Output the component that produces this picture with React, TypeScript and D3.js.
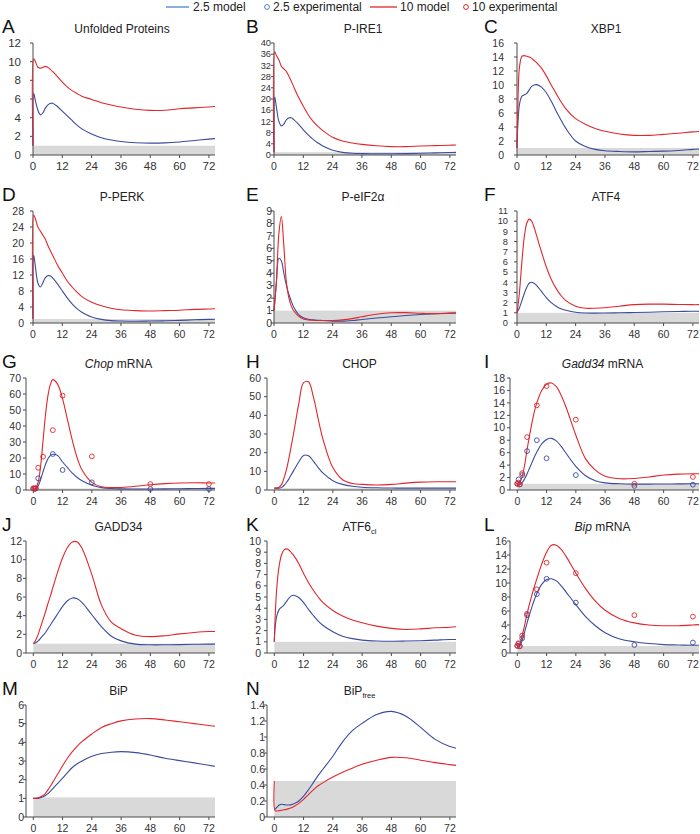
import React from "react";
import * as d3 from "d3";

// model time points (hours)
const T = [0, 0.3, 1, 2, 3, 4, 5, 6, 7, 8, 10, 12, 14, 16, 18, 20, 24, 28, 32, 36, 42, 48, 54, 60, 66, 72, 74.5];
// experimental time points (hours)
const EXP_T = [0, 0.5, 1, 2, 4, 8, 12, 24, 48, 72];
const X_TICKS = [0, 12, 24, 36, 48, 60, 72];

// A Unfolded Proteins
const unfolded25 = [1, 6.6, 5.8, 4.8, 4.3, 4.5, 5.0, 5.35, 5.52, 5.55, 5.2, 4.7, 4.2, 3.7, 3.2, 2.8, 2.25, 1.85, 1.6, 1.45, 1.32, 1.27, 1.3, 1.4, 1.55, 1.7, 1.75];
const unfolded10 = [1, 10.3, 10.0, 9.4, 9.3, 9.4, 9.5, 9.4, 9.2, 8.95, 8.4, 7.8, 7.3, 6.9, 6.6, 6.3, 5.95, 5.6, 5.35, 5.15, 4.9, 4.78, 4.8, 4.95, 5.05, 5.15, 5.2];
// B P-IRE1
const pire25 = [1, 20.8, 17, 12, 10.4, 11, 12.5, 13.2, 13.3, 12.7, 11.0, 9.0, 7.2, 5.6, 4.3, 3.2, 1.7, 0.95, 0.6, 0.5, 0.45, 0.45, 0.5, 0.6, 0.75, 0.9, 0.95];
const pire10 = [1, 36.9, 35.5, 34, 31.7, 30.8, 29.9, 28.3, 26.5, 24.5, 20.7, 17.4, 14.4, 12, 10.2, 8.7, 6.3, 5.0, 4.3, 3.8, 3.3, 3.0, 3.0, 3.2, 3.35, 3.5, 3.55];
// C XBP1
const xbp25 = [1, 4, 7.2, 8.4, 8.6, 8.8, 9.3, 9.8, 10.0, 10.05, 9.7, 8.9, 7.7, 6.3, 5.0, 3.8, 2.0, 1.2, 0.8, 0.6, 0.5, 0.45, 0.5, 0.55, 0.65, 0.8, 0.85];
const xbp10 = [1, 6, 12.5, 14.1, 14.2, 14.1, 14.0, 13.8, 13.5, 13.2, 12.4, 11.3, 10.0, 8.8, 7.6, 6.6, 5.2, 4.4, 3.8, 3.4, 3.0, 2.8, 2.8, 2.95, 3.1, 3.3, 3.35];
// D P-PERK
const pperk25 = [1, 17, 14, 10, 9, 10, 11.3, 11.8, 11.8, 11.3, 9.8, 8, 6.3, 4.8, 3.6, 2.7, 1.5, 0.9, 0.6, 0.5, 0.45, 0.5, 0.55, 0.65, 0.8, 0.9, 0.95];
const pperk10 = [1, 27, 26, 24, 23, 22, 21, 19.5, 18.2, 17, 14.5, 12.5, 10.5, 9, 7.7, 6.6, 5.2, 4.3, 3.7, 3.3, 3.1, 3.0, 3.1, 3.2, 3.4, 3.5, 3.55];
// E P-eIF2a
const peif25 = [1, 1.7, 3.3, 5.2, 5.0, 4.0, 3.1, 2.35, 1.8, 1.3, 0.7, 0.42, 0.3, 0.25, 0.22, 0.2, 0.15, 0.15, 0.2, 0.28, 0.4, 0.5, 0.6, 0.68, 0.75, 0.8, 0.82];
const peif10 = [1, 1.6, 3.4, 7.2, 8.55, 6.3, 3.4, 2.1, 1.4, 1.0, 0.55, 0.32, 0.25, 0.22, 0.2, 0.2, 0.2, 0.25, 0.35, 0.5, 0.7, 0.82, 0.83, 0.78, 0.75, 0.77, 0.78];
// F ATF4
const atf425 = [1, 1.15, 1.5, 2.2, 2.9, 3.5, 3.9, 4.0, 3.9, 3.7, 3.1, 2.5, 2.0, 1.65, 1.4, 1.25, 1.05, 0.98, 0.97, 0.98, 1.0, 1.03, 1.06, 1.1, 1.13, 1.15, 1.15];
const atf410 = [1, 1.5, 3, 6, 8.5, 9.8, 10.2, 10.0, 9.4, 8.6, 7.0, 5.5, 4.3, 3.4, 2.7, 2.2, 1.65, 1.45, 1.45, 1.5, 1.65, 1.8, 1.85, 1.85, 1.82, 1.8, 1.8];
// G Chop mRNA
const chopm25 = [0.6, 0.6, 0.8, 2.5, 6.5, 11.5, 16, 19.5, 21.5, 22.3, 21.5, 17.5, 14, 10.5, 7.8, 5.8, 3, 1.5, 0.9, 0.7, 0.6, 0.6, 0.7, 0.8, 0.9, 1.0, 1.0];
const chopm10 = [0.6, 0.6, 1, 5, 15, 31, 47, 59, 66, 69, 66, 57, 44, 31, 20, 12.5, 4.8, 2.0, 1.5, 1.6, 2.3, 3.3, 4.0, 4.4, 4.5, 4.4, 4.4];
const chopmExp25 = [1, 0.7, 0.9, 7.3, null, 22.5, 12.5, 4.8, 0.6, 0.6];
const chopmExp10 = [1, 0.8, 1.2, 13.9, 20.8, 37.4, 59, 21, 3.7, 3.7];
// H CHOP
const chop25 = [1, 1, 1, 1, 1.4, 2.5, 4, 6, 8.3, 10.5, 15, 18.5, 18.3, 15.5, 12, 9, 5, 3, 2, 1.5, 1.2, 1.05, 1.0, 1.0, 1.0, 1.0, 1.0];
const chop10 = [1, 1, 1, 1.5, 3, 6.5, 11, 17, 24, 31, 46, 57.5, 58, 50, 38, 27, 12, 5.5, 3.5, 3.0, 2.7, 3.0, 3.7, 4.2, 4.4, 4.4, 4.4];
// I Gadd34 mRNA
const gaddm25 = [1, 0.95, 0.9, 1.2, 1.8, 2.6, 3.5, 4.4, 5.3, 6.1, 7.4, 8.1, 8.3, 7.9, 7.0, 5.9, 3.8, 2.3, 1.5, 1.15, 1.0, 0.95, 0.95, 0.97, 0.98, 1.0, 1.0];
const gaddm10 = [1, 1.1, 1.2, 2.2, 4, 6.5, 8.7, 10.8, 12.6, 14, 16.0, 17.0, 17.2, 16.6, 15.2, 13.3, 8.8, 5.0, 3.2, 2.2, 1.8, 1.85, 2.1, 2.4, 2.55, 2.6, 2.6];
const gaddmExp25 = [1.0, 1.7, 0.9, 2.4, 6.25, 8.0, 5.1, 2.4, 0.65, 0.85];
const gaddmExp10 = [1.0, 1.2, 0.9, 2.7, 8.5, 13.6, 16.7, 11.3, 1.0, 2.1];
// J GADD34
const gadd25 = [1, 1.03, 1.1, 1.3, 1.6, 1.9, 2.2, 2.6, 3.0, 3.4, 4.2, 5.0, 5.6, 5.9, 5.8, 5.4, 4.1, 2.8, 1.8, 1.3, 0.95, 0.88, 0.88, 0.9, 0.93, 0.95, 0.95];
const gadd10 = [1, 1.1, 1.4, 2.0, 2.8, 3.6, 4.4, 5.3, 6.1, 7.0, 8.7, 10.2, 11.3, 11.9, 11.9, 11.2, 8.4, 5.1, 3.3, 2.6, 1.9, 1.75, 1.85, 2.05, 2.2, 2.3, 2.3];
// K ATF6cl
const atf625 = [1, 2.2, 3.3, 3.9, 4.1, 4.3, 4.6, 4.9, 5.1, 5.15, 4.95, 4.5, 3.9, 3.35, 2.85, 2.45, 1.9, 1.5, 1.28, 1.15, 1.07, 1.05, 1.07, 1.1, 1.15, 1.2, 1.2];
const atf610 = [1, 3, 5.8, 7.8, 8.8, 9.2, 9.3, 9.2, 8.95, 8.7, 8.0, 7.1, 6.3, 5.6, 5.0, 4.5, 3.8, 3.3, 2.95, 2.7, 2.4, 2.2, 2.1, 2.15, 2.25, 2.3, 2.35];
// L Bip mRNA
const bipm25 = [1, 1.02, 1.1, 1.8, 3.0, 4.3, 5.5, 6.6, 7.6, 8.5, 9.8, 10.5, 10.6, 10.3, 9.6, 8.7, 6.9, 5.2, 3.9, 2.9, 2.0, 1.6, 1.35, 1.2, 1.15, 1.1, 1.1];
const bipm10 = [1, 1.1, 1.3, 2.5, 4.0, 5.6, 7.0, 8.3, 9.5, 10.6, 12.7, 14.4, 15.4, 15.4, 14.8, 13.8, 11.4, 9.2, 7.4, 6.1, 4.9, 4.3, 4.0, 3.9, 3.9, 4.0, 4.05];
const bipmExp25 = [1.0, 1.3, 1.0, 2.1, 5.4, 8.4, 10.6, 7.2, 1.15, 1.5];
const bipmExp10 = [1.05, 1.4, 0.95, 2.5, 5.6, 9.1, 12.9, 11.4, 5.4, 5.2];
// M BiP
const bip25 = [1, 1, 1, 1, 1.04, 1.08, 1.15, 1.25, 1.38, 1.52, 1.8, 2.08, 2.38, 2.65, 2.85, 3.0, 3.25, 3.4, 3.47, 3.5, 3.45, 3.32, 3.15, 3.02, 2.9, 2.77, 2.72];
const bip10 = [1, 1, 1, 1.03, 1.08, 1.15, 1.27, 1.45, 1.65, 1.87, 2.3, 2.75, 3.15, 3.5, 3.8, 4.05, 4.45, 4.8, 5.0, 5.15, 5.25, 5.27, 5.2, 5.1, 5.0, 4.9, 4.86];
// N BiPfree
const bipfree25 = [0.1, 0.1, 0.12, 0.15, 0.16, 0.155, 0.15, 0.15, 0.155, 0.165, 0.2, 0.26, 0.34, 0.43, 0.52, 0.6, 0.76, 0.94, 1.08, 1.17, 1.28, 1.32, 1.26, 1.12, 0.97, 0.88, 0.86];
const bipfree10 = [0.45, 0.08, 0.075, 0.08, 0.085, 0.09, 0.095, 0.105, 0.115, 0.13, 0.17, 0.22, 0.28, 0.34, 0.39, 0.43, 0.5, 0.56, 0.61, 0.66, 0.71, 0.745, 0.74, 0.71, 0.68, 0.655, 0.645];

const PANELS = [
  { letter: "A", title: [{ t: "Unfolded Proteins" }], yMax: 12, yStep: 2, band: 1, lo: unfolded25, hi: unfolded10, gap: 12, fs: 11.5 },
  { letter: "B", title: [{ t: "P-IRE1" }], yMax: 40, yStep: 4, band: 1, lo: pire25, hi: pire10, gap: 3, fs: 9.3 },
  { letter: "C", title: [{ t: "XBP1" }], yMax: 16, yStep: 2, band: 1, lo: xbp25, hi: xbp10, gap: 13 },
  { letter: "D", title: [{ t: "P-PERK" }], yMax: 28, yStep: 4, band: 1, lo: pperk25, hi: pperk10, gap: 9 },
  { letter: "E", title: [{ t: "P-eIF2α" }], yMax: 9, yStep: 1, band: 1, lo: peif25, hi: peif10, gap: 2 },
  { letter: "F", title: [{ t: "ATF4" }], yMax: 11, yStep: 1, band: 1, lo: atf425, hi: atf410, gap: 9, fs: 9.3 },
  { letter: "G", title: [{ t: "Chop", i: true }, { t: " mRNA" }], yMax: 70, yStep: 10, band: 1, lo: chopm25, hi: chopm10, e25: chopmExp25, e10: chopmExp10, gap: 5 },
  { letter: "H", title: [{ t: "CHOP" }], yMax: 60, yStep: 10, band: 1, lo: chop25, hi: chop10, gap: 6 },
  { letter: "I", title: [{ t: "Gadd34", i: true }, { t: " mRNA" }], yMax: 18, yStep: 2, band: 1, lo: gaddm25, hi: gaddm10, e25: gaddmExp25, e10: gaddmExp10, gap: 5 },
  { letter: "J", title: [{ t: "GADD34" }], yMax: 12, yStep: 2, band: 1, lo: gadd25, hi: gadd10, gap: 4 },
  { letter: "K", title: [{ t: "ATF6" }, { t: "cl", sub: true }], yMax: 10, yStep: 1, band: 1, lo: atf625, hi: atf610, gap: 6 },
  { letter: "L", title: [{ t: "Bip", i: true }, { t: " mRNA" }], yMax: 16, yStep: 2, band: 1, lo: bipm25, hi: bipm10, e25: bipmExp25, e10: bipmExp10, gap: 3 },
  { letter: "M", title: [{ t: "BiP" }], yMax: 6, yStep: 1, band: 1.05, lo: bip25, hi: bip10, gap: 2 },
  { letter: "N", title: [{ t: "BiP" }, { t: "free", sub: true }], yMax: 1.4, yStep: 0.2, band: 0.45, lo: bipfree25, hi: bipfree10, gap: 2 },
];

const BLUE = "#3b4b9e";
const RED = "#e2262c";
const LEG_BLUE = "#4d82cc";
const FONT = "'Liberation Sans', Arial, Helvetica, sans-serif";
const COL_X = [0, 241, 484];
const ROW_TOP = [43, 211, 378, 541, 705];
const LETTER_X = [2, 246, 484];
const PH = 112;

function fmt(v: number) {
  return String(+v.toFixed(2));
}

function Panel({ p, idx }: { p: any; idx: number }) {
  const row = Math.floor(idx / 3);
  const col = idx % 3;
  const dx = COL_X[col];
  const top = ROW_TOP[row];
  const bottom = top + PH;
  const offset = row >= 2;
  const xMin = offset ? -3 : 0;
  const left = (offset ? 26 : 33) + dx;
  const right = 215 + dx;
  const x = d3.scaleLinear().domain([xMin, 74.5]).range([left, right]);
  const y = d3.scaleLinear().domain([0, p.yMax]).range([bottom, top]);
  const yTicks = d3.range(0, p.yMax + p.yStep / 2, p.yStep);
  const line = d3
    .line<number>()
    .x((_, k) => x(T[k]))
    .y((v) => y(v))
    .curve(d3.curveCatmullRom.alpha(0.5));
  const fs = p.fs || 10.5;
  const axisColor = "#4a4a4a";
  const titleX = (left + right) / 2 - 2;
  const circles = (vals: (number | null)[], color: string) =>
    vals.map((v, k) =>
      v == null ? null : (
        <circle key={k} cx={x(EXP_T[k])} cy={y(v)} r={2.4} fill="none" stroke={color} strokeWidth={0.9} />
      )
    );
  return (
    <g>
      <text x={LETTER_X[col]} y={top - 10} fontSize={19} fontFamily={FONT} fill="#111">
        {p.letter}
      </text>
      <text x={titleX} y={top - 10} fontSize={12} fontFamily={FONT} fill="#222" textAnchor="middle">
        {p.title.map((s: any, k: number) => (
          <tspan key={k} fontStyle={s.i ? "italic" : undefined} fontSize={s.sub ? 7.5 : undefined} dy={s.sub ? 3 : undefined}>
            {s.t}
          </tspan>
        ))}
      </text>
      <rect x={x(0)} y={y(p.band)} width={x(74.5) - x(0)} height={y(0) - y(p.band)} fill="#d9d9d9" />
      <line x1={left} x2={left} y1={bottom} y2={top} stroke={axisColor} strokeWidth={1} />
      {yTicks.map((v) => (
        <g key={v}>
          <line x1={left - 3} x2={left} y1={y(v)} y2={y(v)} stroke={axisColor} strokeWidth={1} />
          <text x={left - p.gap} y={y(v)} dy="0.35em" fontSize={fs} fontFamily={FONT} fill="#333" textAnchor="end">
            {fmt(v)}
          </text>
        </g>
      ))}
      <line x1={left} x2={right} y1={bottom} y2={bottom} stroke={axisColor} strokeWidth={1} />
      {X_TICKS.map((v) => (
        <g key={v}>
          <line x1={x(v)} x2={x(v)} y1={bottom} y2={bottom + 3} stroke={axisColor} strokeWidth={1} />
          <text x={x(v)} y={bottom + 15} fontSize={p.fs && p.fs > 10.5 ? p.fs : 10.5} fontFamily={FONT} fill="#333" textAnchor="middle">
            {v}
          </text>
        </g>
      ))}
      <path d={line(p.lo) || ""} fill="none" stroke={BLUE} strokeWidth={1.1} />
      <path d={line(p.hi) || ""} fill="none" stroke={RED} strokeWidth={1.1} />
      {p.e25 && circles(p.e25, BLUE)}
      {p.e10 && circles(p.e10, RED)}
    </g>
  );
}

export default function App() {
  return (
    <svg width={700} height={834} style={{ display: "block", position: "absolute", left: 0, top: 0, background: "#fff" }}>
      <rect width={700} height={834} fill="#fff" />
      <g fontFamily={FONT} fontSize={12} fill="#222">
        <line x1={166} x2={189} y1={7} y2={7} stroke={LEG_BLUE} strokeWidth={1.3} />
        <text x={193} y={11}>2.5 model</text>
        <circle cx={267} cy={7} r={2.4} fill="none" stroke={LEG_BLUE} strokeWidth={1} />
        <text x={273} y={11}>2.5 experimental</text>
        <line x1={370} x2={397} y1={7} y2={7} stroke={RED} strokeWidth={1.3} />
        <text x={400} y={11}>10 model</text>
        <circle cx={466} cy={7} r={2.4} fill="none" stroke={RED} strokeWidth={1} />
        <text x={472} y={11}>10 experimental</text>
      </g>
      {PANELS.map((p, i) => (
        <Panel key={p.letter} p={p} idx={i} />
      ))}
    </svg>
  );
}
